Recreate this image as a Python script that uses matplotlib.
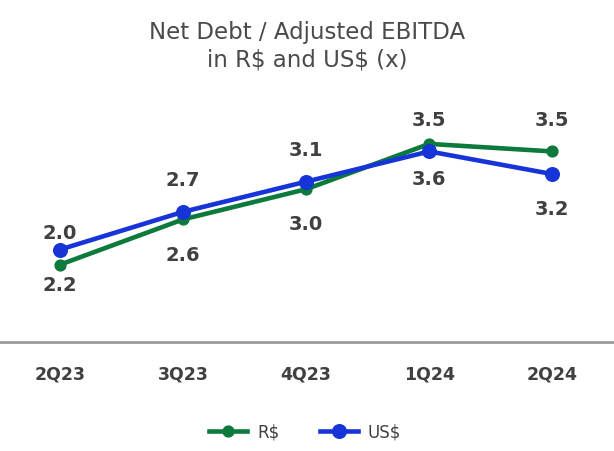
import matplotlib
matplotlib.use("Agg")
import matplotlib.pyplot as plt

quarters = ["2Q23", "3Q23", "4Q23", "1Q24", "2Q24"]
brl = [2.0, 2.6, 3.0, 3.6, 3.5]
usd = [2.2, 2.7, 3.1, 3.5, 3.2]
brl_label_pos = ["above", "below", "below", "below", "above"]
usd_label_pos = ["below", "above", "above", "above", "below"]
series_names = ["R$", "US$"]
title_lines = [r"Net Debt / Adjusted EBITDA", r"in R\$ and US\$ (x)"]

GREEN = "#0b7a3b"
BLUE = "#1634d8"
TEXT = "#404040"

plt.rcParams["font.family"] = ["DejaVu Sans"]

W, H = 614, 452
fig = plt.figure(figsize=(W / 100, H / 100), dpi=100)
ax = fig.add_axes([0, 1 - 343 / H, 1, (343 - 90) / H])

x = list(range(len(quarters)))
l1, = ax.plot(x, brl, color=GREEN, lw=3.3, marker="o", ms=7.8, label=series_names[0], zorder=3)
l2, = ax.plot(x, usd, color=BLUE, lw=3.3, marker="o", ms=9.8, label=series_names[1], zorder=4)

for vals, poss in ((brl, brl_label_pos), (usd, usd_label_pos)):
    for i, (v, p) in enumerate(zip(vals, poss)):
        dy = 23 if p == "above" else -25
        ax.annotate(f"{v:.1f}", (i, v), xytext=(0, dy), textcoords="offset points",
                    ha="center", va="center", fontsize=14, fontweight="bold", color=TEXT)

ax.set_xlim(-0.487, 4.501)
ax.set_ylim(0.976, 4.327)
ax.set_xticks(x)
ax.set_xticklabels(quarters, fontsize=12.5, fontweight="bold", color=TEXT)
ax.tick_params(axis="x", length=0, pad=16)
ax.set_yticks([])
for s in ("top", "left", "right"):
    ax.spines[s].set_visible(False)
ax.spines["bottom"].set_color("#9a9a9a")
ax.spines["bottom"].set_linewidth(2)

fig.text(0.5, 1 - 38.5 / H, title_lines[0], ha="center", va="baseline", fontsize=16.5, color="#4a4a4a")
fig.text(0.5, 1 - 67 / H, title_lines[1], ha="center", va="baseline", fontsize=16.5, color="#4a4a4a")

fig.legend(handles=[l1, l2], loc="center", bbox_to_anchor=(0.497, 1 - 433 / H), ncol=2,
           frameon=False, fontsize=12, handlelength=2.3, columnspacing=2.4,
           handletextpad=0.6, labelcolor=TEXT)

fig.savefig("out.png", dpi=100, facecolor="white")
